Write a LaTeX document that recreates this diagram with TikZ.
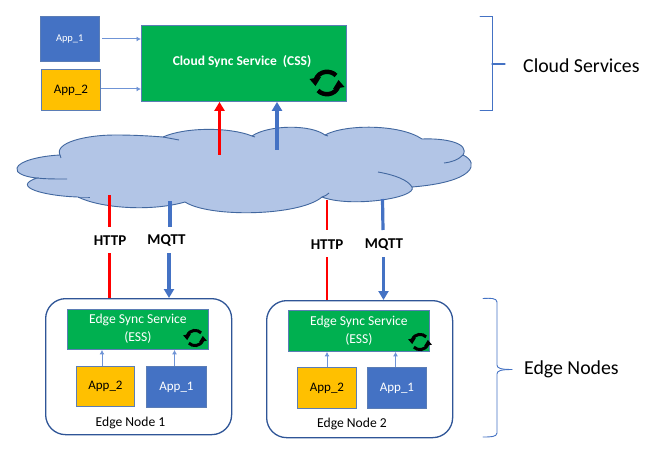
\documentclass[tikz,border=0pt]{standalone}
\usepackage{fontspec}
\setmainfont{Carlito}
\usetikzlibrary{arrows.meta}
\definecolor{ablue}{HTML}{4472C4}
\definecolor{aedge}{HTML}{5B7DB5}
\definecolor{agreen}{HTML}{00B050}
\definecolor{ayellow}{HTML}{FFC000}
\definecolor{acloud}{HTML}{B2C5E6}
\definecolor{acloudl}{HTML}{41679F}
\definecolor{anode}{HTML}{2F5597}
\definecolor{alink}{HTML}{6F94D6}
\tikzset{
  x=1pt,y=-1pt,
  box/.style={draw=aedge,line width=0.9pt,inner sep=0pt,anchor=north west},
  bluebox/.style={box,fill=ablue,text=white},
  yellowbox/.style={box,fill=ayellow,text=black},
  greenbox/.style={box,fill=agreen,text=white,align=center},
  nodebox/.style={draw=anode,line width=1.3pt,rounded corners=20pt,fill=white,inner sep=0pt,anchor=north west},
  thin link/.style={draw=alink,line width=1pt,-{Latex[length=4.5pt,width=5pt]}},
  red link/.style={draw=red,line width=2.9pt},
  blue link/.style={draw=ablue,line width=3.2pt},
  big tip/.style={-{Triangle[length=9pt,width=10pt]}},
  proto/.style={font=\bfseries\fontsize{15}{15}\selectfont,inner sep=0pt,text=black},
  caption/.style={font=\fontsize{13.6}{15}\selectfont,inner sep=0pt,text=black},
  side/.style={font=\fontsize{19.8}{22}\selectfont,inner sep=0pt,anchor=west,text=black},
  brk/.style={draw=ablue,line width=0.9pt,line cap=round},
  cloudline/.style={draw=acloudl,line width=0.9pt},
  appfont/.style={font=\fontsize{13}{14}\selectfont},
  essfont/.style={font=\fontsize{13.6}{18}\selectfont},
}
\newcommand{\syncicon}[3]{%
  \begin{scope}[shift={(#1,#2)},scale=#3]
    \draw[line width=4.4pt*#3,black] (9,-7.5) .. controls (4,-13) and (-8,-13) .. (-11.5,-3);
    \fill[black] (-17.5,-4) -- (-6,-6) -- (-11.5,3) -- cycle;
    \draw[line width=4.4pt*#3,black] (-9,7.5) .. controls (-4,13) and (8,13) .. (11.5,3);
    \fill[black] (17.5,4) -- (6,6) -- (11.5,-3) -- cycle;
  \end{scope}}
\begin{document}
\begin{tikzpicture}
\useasboundingbox (0,0) rectangle (658,465);
\fill[white] (0,0) rectangle (658,465);
% cloud
\path[cloudline,fill=acloud]
  (17,168) .. controls (19,161) and (40,156) .. (60,155)
  .. controls (54,143) and (85,135) .. (115,135)
  .. controls (135,135) and (150,136) .. (163,137)
  .. controls (185,127) and (230,127) .. (252,136)
  .. controls (268,125) and (310,124) .. (325,135)
  .. controls (345,124) and (400,124) .. (422,139)
  .. controls (445,138) and (470,143) .. (463,155)
  .. controls (480,163) and (475,182) .. (412,187)
  .. controls (418,198) and (350,208) .. (322,197)
  .. controls (300,216) and (210,218) .. (185,202)
  .. controls (150,212) and (100,208) .. (78,197)
  .. controls (45,196) and (10,187) .. (37,178)
  .. controls (25,177) and (15,173) .. (17,168) -- cycle;
\draw[cloudline] (60,155) .. controls (60,156) and (60,157) .. (61,158);
\draw[cloudline] (163,137) .. controls (168,138) and (174,139) .. (179,140);
\draw[cloudline] (37,178) .. controls (45,179) and (55,179) .. (67,179);
\draw[cloudline] (78,197) .. controls (82,197) and (86,197) .. (90,197);
\draw[cloudline] (412,187) .. controls (408,180) and (395,175) .. (378,172);
\draw[cloudline] (463,155) .. controls (458,160) and (452,162) .. (444,163);
\draw[cloudline] (322,197) .. controls (325,196) and (327,195) .. (329,193);
\draw[cloudline] (252,136) .. controls (253,137) and (254,137) .. (255,137);
\draw[cloudline] (325,135) .. controls (326,136) and (327,136) .. (328,136);
% top boxes
\node[bluebox,minimum width=59.5pt,minimum height=45.5pt,font=\fontsize{10.4}{11}\selectfont] (capp1) at (39.5,16) {App\_1};
\node[yellowbox,minimum width=59pt,minimum height=41pt,appfont] (capp2) at (41,69) {App\_2};
\node[greenbox,minimum width=205pt,minimum height=76pt] (css) at (141,25) {};
\node[font=\bfseries\fontsize{13.5}{15}\selectfont,text=white,inner sep=0pt] (csstext) at (242,61.5) {Cloud Sync Service\ \ (CSS)};
\syncicon{327}{83}{1}
\coordinate (a1s) at (102,39); \coordinate (a1e) at (css.west|-a1s);
\coordinate (a2s) at (101,89); \coordinate (a2e) at (css.west|-a2s);
\draw[thin link] (a1s) -- (a1e);
\draw[thin link] (a2s) -- (a2e);
\coordinate (cr) at (219.5,155); \coordinate (cb) at (277,150);
\draw[red link,big tip] (cr) -- (cr|-css.south);
\draw[blue link,big tip] (cb) -- (cb|-css.south);
% edge node 1
\node[nodebox,minimum width=186pt,minimum height=136pt] (en1) at (45,298) {};
\node[greenbox,minimum width=141pt,minimum height=40.5pt,essfont] (ess1) at (67,308.5) {Edge Sync Service\\(ESS)};
\node[yellowbox,minimum width=58pt,minimum height=40pt,appfont] (e1a2) at (76,366) {App\_2};
\node[bluebox,minimum width=60pt,minimum height=41pt,appfont] (e1a1) at (146,366) {App\_1};
\node[caption] (en1l) at (130.5,422.5) {Edge Node 1};
\syncicon{195}{338}{0.68}
\coordinate (e1p) at (102,366); \coordinate (e1q) at (174.5,366);
\draw[thin link] (e1p) -- (e1p|-ess1.south);
\draw[thin link] (e1q) -- (e1q|-ess1.south);
\node[proto] (h1) at (110,240.5) {HTTP};
\node[proto] (m1) at (166.5,240.5) {MQTT};
\coordinate (h1t) at (109.5,195); \coordinate (m1t) at (170,201);
\coordinate (h1b) at (109.5,253); \coordinate (m1b) at (169,253);
\coordinate (h1c) at (109.5,227); \coordinate (m1c) at (170,227);
\draw[red link] (h1t) -- (h1c);
\draw[red link] (h1b) -- (h1b|-en1.north);
\draw[blue link] (m1t) -- (m1c);
\draw[blue link,big tip] (m1b) -- (m1b|-en1.north);
% edge node 2
\node[nodebox,minimum width=186pt,minimum height=137pt] (en2) at (266,300) {};
\node[greenbox,minimum width=141pt,minimum height=41pt,essfont] (ess2) at (288,310) {Edge Sync Service\\(ESS)};
\node[yellowbox,minimum width=59pt,minimum height=41pt,appfont] (e2a2) at (297,367) {App\_2};
\node[bluebox,minimum width=59pt,minimum height=41pt,appfont] (e2a1) at (367,367) {App\_1};
\node[caption] (en2l) at (352,424) {Edge Node 2};
\syncicon{420}{342}{0.68}
\coordinate (e2p) at (327,367); \coordinate (e2q) at (395.5,367);
\draw[thin link] (e2p) -- (e2p|-ess2.south);
\draw[thin link] (e2q) -- (e2q|-ess2.south);
\node[proto] (h2) at (327,244.5) {HTTP};
\node[proto] (m2) at (384,244.5) {MQTT};
\coordinate (h2t) at (327,200); \coordinate (m2t) at (382.5,199);
\coordinate (h2c) at (327,230); \coordinate (m2c) at (383,230);
\coordinate (h2b) at (327,257); \coordinate (m2b) at (383.5,257);
\draw[red link] (h2t) -- (h2c);
\draw[red link] (h2b) -- (h2b|-en2.north);
\draw[blue link] (m2t) -- (m2c);
\draw[blue link,big tip] (m2b) -- (m2b|-en2.north);
% brackets
\coordinate (b1a) at (480,16); \coordinate (b1b) at (480,110);
\coordinate (b1m) at (492,64); \coordinate (b1t) at (505,64);
\draw[brk] (b1a) -- (492,16) -- (492,110) -- (b1b);
\draw[brk,line width=1.3pt] (b1m) -- (b1t);
\coordinate (b2a) at (483,298.5); \coordinate (b2b) at (483,437); \coordinate (b2t) at (512,369.5);
\draw[brk] (b2a) .. controls (490,298) and (497,298) .. (497,302) -- (497,365) .. controls (497,368) and (500,369.5) .. (b2t);
\draw[brk] (b2b) .. controls (490,437) and (497,437) .. (497,433) -- (497,374) .. controls (497,371) and (500,369.5) .. (b2t);
\node[side] (lc) at (523,65.5) {Cloud Services};
\node[side] (le) at (524,369.5) {Edge Nodes};
\end{tikzpicture}
\end{document}
